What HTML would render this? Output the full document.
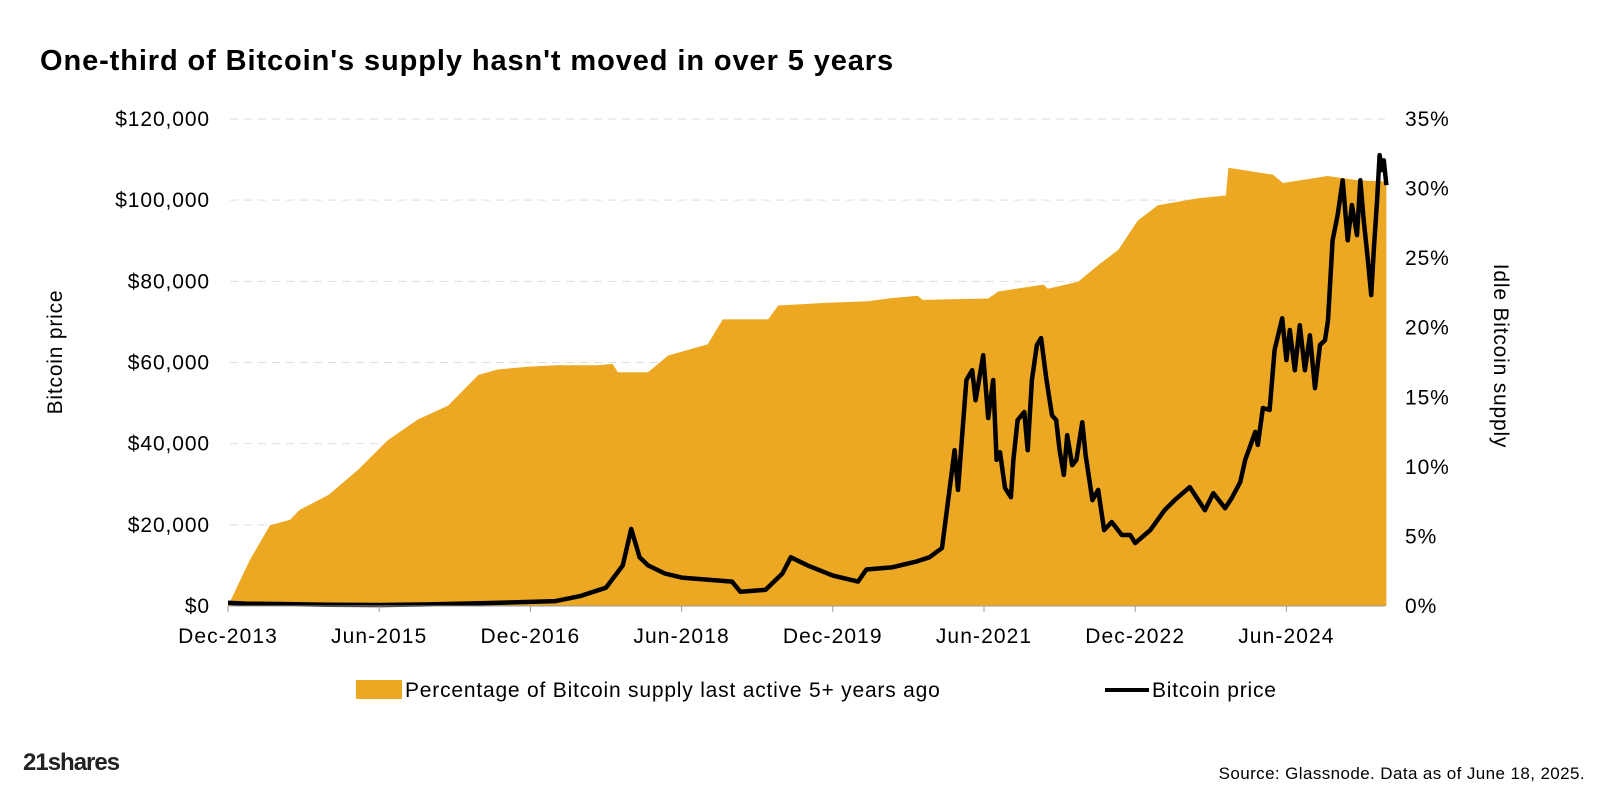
<!DOCTYPE html>
<html><head><meta charset="utf-8"><style>
body{margin:0;background:#fff;font-family:"Liberation Sans",sans-serif}
svg text{font-family:"Liberation Sans",sans-serif}
</style></head><body>
<svg id="c" width="1600" height="804" viewBox="0 0 1600 804" xmlns="http://www.w3.org/2000/svg">
<text x="40" y="70" font-size="29" font-weight="bold" letter-spacing="0.9" fill="#000">One-third of Bitcoin's supply hasn't moved in over 5 years</text>
<g id="grid"></g>
<g id="area"></g>
<g id="line"></g>
<g id="axes"></g>
<text transform="translate(62,352) rotate(-90)" text-anchor="middle" font-size="21" letter-spacing="0.8">Bitcoin price</text>
<text transform="translate(1494,356) rotate(90)" text-anchor="middle" font-size="21" letter-spacing="0.8">Idle Bitcoin supply</text>
<g>
<rect x="356" y="680" width="46" height="19" fill="#ECA822"/>
<text x="405" y="697" font-size="21" letter-spacing="0.8">Percentage of Bitcoin supply last active 5+ years ago</text>
<line x1="1105" y1="690" x2="1149" y2="690" stroke="#000" stroke-width="4"/>
<text x="1152" y="697" font-size="21" letter-spacing="0.8">Bitcoin price</text>
</g>
<text x="23" y="770" font-size="24" font-weight="bold" fill="#222" letter-spacing="-1">21shares</text>
<text x="1585" y="779" font-size="17" letter-spacing="0.4" text-anchor="end">Source: Glassnode. Data as of June 18, 2025.</text>
</svg>
<script>
const xTickLabels=["Dec-2013","Jun-2015","Dec-2016","Jun-2018","Dec-2019","Jun-2021","Dec-2022","Jun-2024"];
const xTickMonths=[0,18,36,54,72,90,108,126];
const priceTicks=[0,20000,40000,60000,80000,100000,120000];
const pctTicks=[0,5,10,15,20,25,30,35];
const supplyMonths=[0,2.6,5,7.4,8.5,12,15.5,19,22.6,26.2,29.8,32.1,35.7,39.3,44,45.8,46.4,50,52.4,57.1,58.9,60.7,64.3,65.5,71.4,76.2,78.6,82.1,82.7,90.5,91.7,97.1,97.6,101.2,103.6,106,108.3,110.7,115.5,118.8,119.1,124.4,125.6,130.9,134.5,137.9];
const supplyPct=[0,3.3,5.8,6.2,6.9,8.0,9.8,11.9,13.4,14.4,16.6,17.0,17.2,17.3,17.3,17.4,16.8,16.8,18.0,18.8,20.6,20.6,20.6,21.6,21.8,21.9,22.1,22.3,22.0,22.1,22.6,23.1,22.8,23.3,24.5,25.6,27.7,28.8,29.3,29.5,31.5,31.0,30.4,30.9,30.6,30.5];
const priceMonths=[0,2,6,12,18,24,30,36,39,42,45,47,48,49,50,52,54,57,60,61,64,66,67,69,72,75,76,79,82,83.5,85.0,86.5,86.9,87.9,88.6,89.0,89.9,90.5,91.1,91.5,91.9,92.5,93.2,93.5,94.0,94.8,95.2,95.7,96.3,96.8,97.4,98.1,98.6,99.0,99.5,99.9,100.5,101.0,101.7,102.1,102.9,103.6,104.3,105.2,106.4,107.4,108.0,109.8,111.5,112.7,114.5,116.3,117.3,118.7,119.5,120.5,121.1,122.3,122.6,123.2,124.0,124.6,125.5,126.0,126.4,127.0,127.6,128.2,128.8,129.4,130.0,130.6,130.95,131.5,132.1,132.7,133.3,133.8,134.4,134.8,135.2,135.7,136.1,136.4,136.8,137.1,137.4,137.6,137.9];
const priceVals=[800,600,500,300,250,400,700,1000,1200,2500,4500,10000,19000,12000,10000,8000,7000,6500,6000,3500,4000,8000,12000,10000,7500,6000,9000,9500,11000,12000,14300,38400,28600,55700,58100,50700,61800,46300,55700,36000,37900,29100,26800,36000,45800,47800,38400,55700,64300,66000,56200,47000,45800,38400,32300,42100,34700,36000,45300,37200,26100,28600,18700,20700,17500,17500,15500,18700,23600,26100,29300,23600,27800,24100,26600,30500,36000,42900,39700,48800,48300,63100,70900,60600,68000,58100,69200,58100,66700,53700,64300,65500,70400,90100,96300,104900,90100,98800,91400,104900,95100,85200,76600,87700,100000,111100,107400,109800,103700];
const X=m=>228+m*8.4, YP=v=>606-v/120000*487, YR=p=>606-p/35*487;
const NS="http://www.w3.org/2000/svg";
function mk(t,a,p){const e=document.createElementNS(NS,t);for(const k in a)e.setAttribute(k,a[k]);document.getElementById(p).appendChild(e);return e;}
priceTicks.forEach((v,i)=>{
 if(v>0){const g=mk('line',{x1:230,x2:1385,y1:YP(v),y2:YP(v),stroke:'#ddd','stroke-dasharray':'8 6'},'grid');
 
 }
 const t=mk('text',{x:210,y:YP(v)+7,'text-anchor':'end','font-size':21,'letter-spacing':0.9},'axes');t.textContent='$'+v.toLocaleString('en-US');
 
 
});
pctTicks.forEach(p=>{const t=mk('text',{x:1405,y:YR(p)+7,'font-size':21,'letter-spacing':0.9},'axes');t.textContent=p+'%';
 
 });
xTickLabels.forEach((l,i)=>{const t=mk('text',{x:X(xTickMonths[i]),y:643,'text-anchor':'middle','font-size':21,'letter-spacing':1.1},'axes');t.textContent=l;
 
 
 const k=mk('line',{x1:X(xTickMonths[i]),x2:X(xTickMonths[i]),y1:606,y2:612,stroke:'#999'},'axes');
 
 });
let d='M'+X(0)+',606';supplyMonths.forEach((m,i)=>d+=' L'+X(m).toFixed(1)+','+YR(supplyPct[i]).toFixed(1));
d+=' L'+X(supplyMonths[supplyMonths.length-1])+',606 Z';
const a=mk('path',{d:d,fill:'#ECA822'},'area');


const bl=mk('line',{x1:228,x2:1385,y1:606,y2:606,stroke:'#999'},'axes');


let pd='';priceMonths.forEach((m,i)=>pd+=(i?' L':'M')+X(m).toFixed(1)+','+YP(priceVals[i]).toFixed(1));
const pl=mk('path',{d:pd,fill:'none',stroke:'#000','stroke-width':4.5,'stroke-linejoin':'round'},'line');


</script>
</body></html>
